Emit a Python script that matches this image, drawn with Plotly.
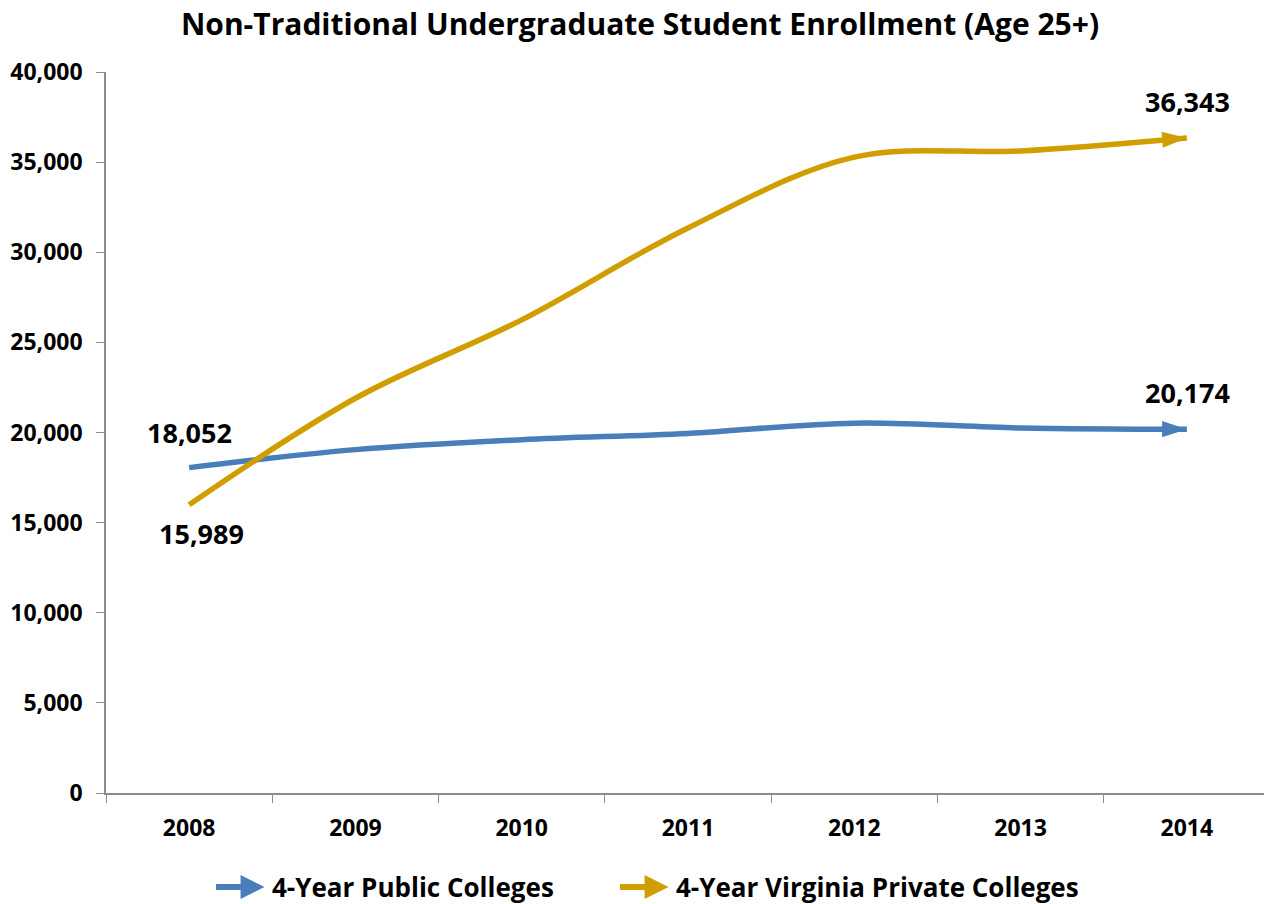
import plotly.graph_objects as go

years = ["2008", "2009", "2010", "2011", "2012", "2013", "2014"]
public = [18052, 19050, 19600, 19950, 20520, 20250, 20174]
private = [15989, 21900, 26250, 31350, 35280, 35620, 36343]
series_names = ["4-Year Public Colleges", "4-Year Virginia Private Colleges"]
colors = ["#4A7EBB", "#D09E00"]
y_ticks = [0, 5000, 10000, 15000, 20000, 25000, 30000, 35000, 40000]

FONT = "Open Sans"
fig = go.Figure()
for vals, name, col in zip([public, private], series_names, colors):
    n = len(vals)
    fig.add_trace(go.Scatter(
        x=years, y=vals, name=name, mode="lines+markers",
        line=dict(color=col, width=5.5, shape="spline", smoothing=1),
        marker=dict(symbol="arrow", angleref="previous", opacity=1,
                    size=[0] * (n - 1) + [26], color=col, line=dict(width=0)),
        showlegend=False, hoverinfo="skip",
    ))

def fmt(v):
    return f"{v:,}"

last = len(years) - 1
anns = [
    dict(x=0, y=public[0], text=fmt(public[0]), yshift=35, xshift=0),
    dict(x=0, y=private[0], text=fmt(private[0]), yshift=-29, xshift=12),
    dict(x=last, y=public[-1], text=fmt(public[-1]), yshift=37, xshift=1),
    dict(x=last, y=private[-1], text=fmt(private[-1]), yshift=36, xshift=1),
]
for a in anns:
    a.update(xref="x", yref="y", showarrow=False, xanchor="center", yanchor="middle",
             font=dict(family=FONT, size=27, color="black", weight="bold"))
    fig.add_annotation(**a)

# legend built from annotations (arrow icons + labels)
legend_pos = [(0.1362, 0.1405), (0.4833, 0.4876)]
for (xa, xt), name, col in zip(legend_pos, series_names, colors):
    fig.add_annotation(xref="paper", yref="paper", x=xa, y=-0.1304,
                       ax=-50, ay=0, axref="pixel", ayref="pixel",
                       showarrow=True, arrowhead=2, arrowsize=0.8, arrowwidth=6,
                       arrowcolor=col, text="")
    fig.add_annotation(xref="paper", yref="paper", x=xt, y=-0.1304,
                       xanchor="left", yanchor="middle", showarrow=False,
                       text=name, font=dict(family=FONT, size=26, color="black", weight="bold"))

fig.update_layout(
    width=1264, height=896,
    margin=dict(l=95, r=2, t=64, b=111),
    paper_bgcolor="white", plot_bgcolor="white",
    title=dict(text="Non-Traditional Undergraduate Student Enrollment (Age 25+)",
               x=0.5, xanchor="center", y=0.982, yanchor="middle",
               font=dict(family=FONT, size=30, color="black", weight="bold")),
    font=dict(family=FONT, color="black"),
    xaxis=dict(type="category", tickson="boundaries", ticks="outside", ticklen=8,
               tickcolor="#8C8C8C", showline=True, linecolor="#8C8C8C", linewidth=1.5,
               showgrid=False, zeroline=False, range=[-0.5, 6.5], ticklabelstandoff=14,
               tickfont=dict(family=FONT, size=23, color="black", weight="bold")),
    yaxis=dict(range=[0, 40000], tickvals=y_ticks, tickformat=",d",
               ticks="outside", ticklen=8, tickcolor="#8C8C8C",
               showline=True, linecolor="#8C8C8C", linewidth=1.5, ticklabelstandoff=9,
               showgrid=False, zeroline=False,
               tickfont=dict(family=FONT, size=23, color="black", weight="bold")),
)

fig.write_html("out.html")
